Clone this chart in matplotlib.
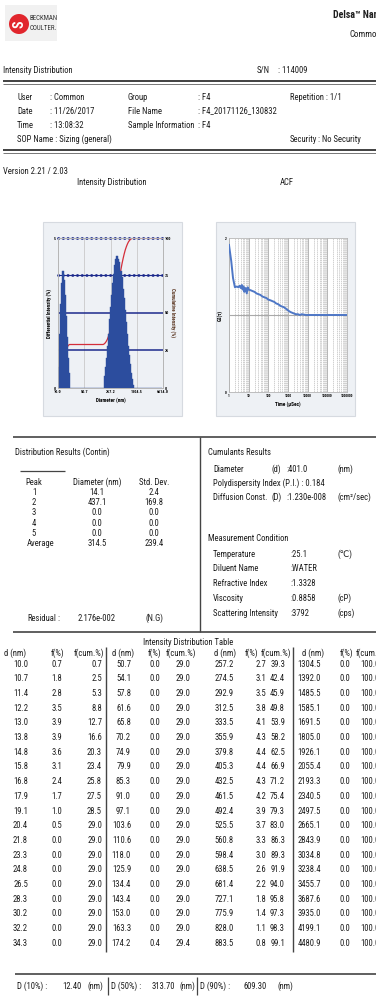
import numpy as np
import matplotlib
matplotlib.use('Agg')
import matplotlib.pyplot as plt
from matplotlib import font_manager as fm
from matplotlib.patches import Rectangle, Circle
import matplotlib.ticker as mticker

# ---------------- data ----------------
# Intensity distribution table (visible part)
g1_d = [10.0, 10.7, 11.4, 12.2, 13.0, 13.8, 14.8, 15.8, 16.8, 17.9, 19.1, 20.4, 21.8, 23.3, 24.8, 26.5, 28.3, 30.2, 32.2, 34.3]
g1_f = [0.7, 1.8, 2.8, 3.5, 3.9, 3.9, 3.6, 3.1, 2.4, 1.7, 1.0, 0.5, 0.0, 0.0, 0.0, 0.0, 0.0, 0.0, 0.0, 0.0]
g1_c = [0.7, 2.5, 5.3, 8.8, 12.7, 16.6, 20.3, 23.4, 25.8, 27.5, 28.5, 29.0, 29.0, 29.0, 29.0, 29.0, 29.0, 29.0, 29.0, 29.0]
g2_d = [50.7, 54.1, 57.8, 61.6, 65.8, 70.2, 74.9, 79.9, 85.3, 91.0, 97.1, 103.6, 110.6, 118.0, 125.9, 134.4, 143.4, 153.0, 163.3, 174.2]
g2_f = [0.0, 0.0, 0.0, 0.0, 0.0, 0.0, 0.0, 0.0, 0.0, 0.0, 0.0, 0.0, 0.0, 0.0, 0.0, 0.0, 0.0, 0.0, 0.0, 0.4]
g2_c = [29.0, 29.0, 29.0, 29.0, 29.0, 29.0, 29.0, 29.0, 29.0, 29.0, 29.0, 29.0, 29.0, 29.0, 29.0, 29.0, 29.0, 29.0, 29.0, 29.4]
g3_d = [257.2, 274.5, 292.9, 312.5, 333.5, 355.9, 379.8, 405.3, 432.5, 461.5, 492.4, 525.5, 560.8, 598.4, 638.5, 681.4, 727.1, 775.9, 828.0, 883.5]
g3_f = [2.7, 3.1, 3.5, 3.8, 4.1, 4.3, 4.4, 4.4, 4.3, 4.2, 3.9, 3.7, 3.3, 3.0, 2.6, 2.2, 1.8, 1.4, 1.1, 0.8]
g3_c = [39.3, 42.4, 45.9, 49.8, 53.9, 58.2, 62.5, 66.9, 71.2, 75.4, 79.3, 83.0, 86.3, 89.3, 91.9, 94.0, 95.8, 97.3, 98.3, 99.1]
g4_d = [1304.5, 1392.0, 1485.5, 1585.1, 1691.5, 1805.0, 1926.1, 2055.4, 2193.3, 2340.5, 2497.5, 2665.1, 2843.9, 3034.8, 3238.4, 3455.7, 3687.6, 3935.0, 4199.1, 4480.9]
g4_f = [0.0, 0.0, 0.0, 0.0, 0.0, 0.0, 0.0, 0.0, 0.0, 0.0, 0.0, 0.0, 0.0, 0.0, 0.0, 0.0, 0.0, 0.0, 0.0, 0.0]
g4_c = [100.0, 100.0, 100.0, 100.0, 100.0, 100.0, 100.0, 100.0, 100.0, 100.0, 100.0, 100.0, 100.0, 100.0, 100.0, 100.0, 100.0, 100.0, 100.0, 100.0]

# bins hidden in the printed table (estimated from the chart / cumulative values)
h1_d = [36.6, 39.1, 41.7, 44.5, 47.5]
h1_f = [0.0, 0.0, 0.0, 0.0, 0.0]
h1_c = [29.0, 29.0, 29.0, 29.0, 29.0]
h2_d = [185.9, 198.4, 211.7, 225.9, 241.0]
h2_f = [0.7, 1.0, 1.4, 1.8, 2.3]
h2_c = [30.1, 31.1, 32.5, 34.3, 36.6]
h3_d = [942.8, 1006.1, 1073.6, 1145.7, 1222.6]
h3_f = [0.5, 0.3, 0.1, 0.0, 0.0]
h3_c = [99.6, 99.9, 100.0, 100.0, 100.0]
h4_d = [4781.5, 5102.3, 5444.6, 5809.9, 6199.6]
h4_f = [0.0, 0.0, 0.0, 0.0, 0.0]
h4_c = [100.0, 100.0, 100.0, 100.0, 100.0]

dist_xticks = [10.0, 50.7, 257.2, 1304.5, 6614.0]
dist_cum_ticks = [0, 25, 50, 75, 100]

# ACF
acf_t = [1, 1.3, 1.6, 2, 2.5, 3, 3.5, 4, 4.5, 5, 5.5, 6, 7, 8, 9, 10, 13, 16, 20, 25, 32, 40, 50, 63, 80,
         100, 130, 160, 200, 250, 320, 400, 500, 630, 800, 1000, 1300, 1600, 2000, 2500, 3200, 4000,
         5000, 8000, 10000, 20000, 50000, 100000, 300000, 1000000]
acf_g = [1.91, 1.70, 1.48, 1.36, 1.37, 1.36, 1.38, 1.35, 1.39, 1.33, 1.37, 1.30, 1.35, 1.28, 1.36, 1.33,
         1.32, 1.31, 1.30, 1.28, 1.27, 1.26, 1.24, 1.23, 1.22, 1.20, 1.19, 1.18, 1.17, 1.15, 1.14, 1.12,
         1.11, 1.10, 1.08, 1.06, 1.04, 1.03, 1.02, 1.01, 1.01, 1.00, 1.01, 1.00, 1.00, 1.00, 1.00, 1.00,
         1.00, 1.00]
acf_xticks = [1, 10, 100, 1000, 10000, 100000, 1000000]

peaks = ['1', '2', '3', '4', '5']
peak_diam = [14.1, 437.1, 0.0, 0.0, 0.0]
peak_std = [2.4, 169.8, 0.0, 0.0, 0.0]
avg_diam, avg_std = 314.5, 239.4

# ---------------- fonts: prefer a narrow face ----------------
entries = fm.fontManager.ttflist
COND = ('condensed', 'semi-condensed', 'extra-condensed', 'ultra-condensed')


def has(name):
    return any(f.name == name for f in entries)


def has_cond(name):
    return any(f.name == name and (str(f.stretch) in COND or 'ondensed' in f.fname or 'Narrow' in f.fname)
               for f in entries)


if has('Liberation Sans Narrow'):
    FAM, STR, FS = ['Liberation Sans Narrow', 'DejaVu Sans'], 'normal', 6.4
elif has('Roboto Condensed'):
    FAM, STR, FS = ['Roboto Condensed', 'DejaVu Sans'], 'normal', 6.2
elif has_cond('DejaVu Sans'):
    FAM, STR, FS = ['DejaVu Sans'], 'condensed', 5.8
else:
    FAM, STR, FS = ['Liberation Sans', 'DejaVu Sans'], 'normal', 5.6
plt.rcParams['font.family'] = FAM
plt.rcParams['font.stretch'] = STR

W, H = 376, 996
fig = plt.figure(figsize=(W / 100, H / 100), dpi=100)
ax0 = fig.add_axes([0, 0, 1, 1])
ax0.set_xlim(0, W)
ax0.set_ylim(H, 0)
ax0.axis('off')

TXT = '#1e1e1e'


def T(x, y, s, size=None, ha='left', weight='normal', color=TXT):
    ax0.text(x, y, s, fontsize=size or FS, ha=ha, va='center', family=FAM, fontstretch=STR,
             fontweight=weight, color=color)


def hl(y, x0, x1, lw=1.0, color='#444444'):
    ax0.plot([x0, x1], [y, y], color=color, lw=lw, solid_capstyle='butt')


def vl(x, y0, y1, lw=1.0, color='#444444'):
    ax0.plot([x, x], [y0, y1], color=color, lw=lw, solid_capstyle='butt')


def px_axes(x0, y0, x1, y1):
    return fig.add_axes([x0 / W, 1 - y1 / H, (x1 - x0) / W, (y1 - y0) / H])


# ---------------- header ----------------
ax0.add_patch(Rectangle((5, 5), 52, 36, facecolor='#f1f1f1', edgecolor='none'))
ax0.add_patch(Circle((19, 24), 10, facecolor='#e1262d', edgecolor='none'))
ax0.text(19, 24, 'S', rotation=90, color='white', fontsize=10, fontweight='bold', ha='center', va='center',
         family=FAM)
T(30, 18, 'BECKMAN', FS * 0.8, color='#333333')
T(30, 28, 'COULTER.', FS * 0.8, color='#333333')
T(333, 15, 'Delsa™ Nano C', FS * 1.15, weight='bold')
T(349, 34, 'Common', FS * 1.05)

T(3, 70, 'Intensity Distribution')
T(257, 70, 'S/N')
T(278, 70, ': 114009')
hl(81, 3, 376, 1.3, '#333333')
hl(84, 3, 376, 0.7, '#777777')

rows = [(97, 'User', ': Common', 'Group', ': F4'),
        (111, 'Date', ': 11/26/2017', 'File Name', ': F4_20171126_130832'),
        (125, 'Time', ': 13:08:32', 'Sample Information', ': F4')]
for y, a, b, c, d in rows:
    T(17, y, a)
    T(50, y, b)
    T(128, y, c)
    T(198, y, d)
T(290, 97, 'Repetition : 1/1')
T(17, 139, 'SOP Name : Sizing (general)')
T(290, 139, 'Security')
T(318, 139, ': No Security')
hl(150, 3, 376, 1.3, '#333333')
hl(153, 3, 376, 0.7, '#777777')
T(3, 171, 'Version 2.21 / 2.03')
T(112, 182, 'Intensity Distribution', ha='center')
T(287, 182, 'ACF', ha='center')

# ---------------- chart frames ----------------
for fx in (43, 216):
    ax0.add_patch(Rectangle((fx, 222), 139, 194, facecolor='#eef1f5', edgecolor='#d6dae0', lw=0.8))

# ---------------- intensity distribution chart ----------------
d_all = np.array(g1_d + h1_d + g2_d + h2_d + g3_d + h3_d + g4_d + h4_d)
f_all = np.array(g1_f + h1_f + g2_f + h2_f + g3_f + h3_f + g4_f + h4_f)
c_all = np.array(g1_c + h1_c + g2_c + h2_c + g3_c + h3_c + g4_c + h4_c)
mids = np.sqrt(d_all[:-1] * d_all[1:])
lefts = np.concatenate([[d_all[0] ** 2 / mids[0]], mids])
rights = np.concatenate([mids, [d_all[-1] ** 2 / mids[-1]]])

NAVY = '#1c2a8c'
BLUE = '#2c4d9e'
axL = px_axes(58, 238, 163, 388)
axR = axL.twinx()
axL.set_zorder(axR.get_zorder() + 1)
axL.patch.set_visible(False)
axR.patch.set_facecolor('white')

axL.set_xscale('log')
axL.set_xlim(dist_xticks[0], dist_xticks[-1])
axL.bar(lefts, f_all, width=rights - lefts, align='edge', color=BLUE, lw=0.3, edgecolor=BLUE)
axL.set_ylim(0, 5)
axL.set_yticks([0, 5])

axR.set_ylim(0, 100)
for t in dist_xticks[1:-1]:
    axR.axvline(t, color='#c9c9c9', lw=0.6)
axR.plot(d_all, c_all, color='#d42e3a', lw=0.9, zorder=3)
for lvl in dist_cum_ticks[1:3]:
    axR.axhline(lvl, color=NAVY, lw=1.1, zorder=2)
for lvl in dist_cum_ticks[3:]:
    axR.axhline(lvl, color=NAVY, lw=0.8, zorder=2, clip_on=False)
    axR.axhline(lvl, color=NAVY, lw=2.0, ls=(0, (0.1, 1.6)), dash_capstyle='round', zorder=2, clip_on=False)
axR.set_yticks(dist_cum_ticks)

axL.set_xticks(dist_xticks)
axL.set_xticklabels(['%.1f' % v for v in dist_xticks])
axL.xaxis.set_minor_locator(mticker.NullLocator())
for a in (axL, axR):
    a.tick_params(length=0, labelsize=3.0, pad=1.5)
    for lab in a.get_xticklabels() + a.get_yticklabels():
        lab.set_fontweight('bold')
    for s in a.spines.values():
        s.set_color('#b5b5b5')
        s.set_linewidth(0.6)
axL.set_xlabel('Diameter (nm)', fontsize=3.8, labelpad=2, fontweight='bold')
axL.set_ylabel('Differential Intensity (%)', fontsize=3.6, labelpad=1, fontweight='bold')
axR.set_ylabel('Cumulative Intensity (%)', fontsize=3.6, labelpad=3, rotation=270, fontweight='bold',
               color='#5a3520')

# ---------------- ACF chart ----------------
axA = px_axes(229, 238, 347, 392)
axA.set_xscale('log')
axA.set_xlim(acf_xticks[0], acf_xticks[-1])
axA.set_ylim(0, 2)
axA.xaxis.set_minor_locator(mticker.LogLocator(base=10, subs=np.arange(2, 10), numticks=20))
axA.xaxis.set_minor_formatter(mticker.NullFormatter())
axA.grid(True, which='major', axis='x', color='#a9a9a9', lw=0.6)
axA.grid(True, which='minor', axis='x', color='#bdbdbd', lw=0.5, ls=(0, (2, 1)))
axA.axhline(1, color='#a9a9a9', lw=0.8)
axA.plot(acf_t, acf_g, color='#4e77c6', lw=1.4, zorder=3)
axA.set_xticks(acf_xticks)
axA.set_xticklabels([str(v) for v in acf_xticks])
axA.set_yticks([0, 2])
axA.tick_params(which='both', length=0, labelsize=2.6, pad=1.5)
for lab in axA.get_xticklabels() + axA.get_yticklabels():
    lab.set_fontweight('bold')
for s in axA.spines.values():
    s.set_color('#b5b5b5')
    s.set_linewidth(0.6)
axA.set_xlabel('Time (μSec)', fontsize=3.8, labelpad=2, fontweight='bold')
axA.set_ylabel('G2(τ)', fontsize=3.6, labelpad=2, fontweight='bold')

# ---------------- results section ----------------
hl(437, 13, 376, 1.2)
vl(200, 437, 632, 1.0)
hl(632, 13, 376, 1.2)

T(15, 452, 'Distribution Results (Contin)')
hl(471, 20, 65, 0.9)
T(34, 482, 'Peak', ha='center')
T(97, 482, 'Diameter (nm)', ha='center')
T(154, 482, 'Std. Dev.', ha='center')
for i, (p, dm, sd) in enumerate(zip(peaks, peak_diam, peak_std)):
    y = 492.5 + 10.2 * i
    T(34, y, p, ha='center')
    T(97, y, '%.1f' % dm, ha='center')
    T(154, y, '%.1f' % sd, ha='center')
T(27, 543.5, 'Average')
T(97, 543.5, '%.1f' % avg_diam, ha='center')
T(154, 543.5, '%.1f' % avg_std, ha='center')
T(27, 618, 'Residual')
T(57, 618, ':')
T(97, 618, '2.176e-002', ha='center')
T(154, 618, '(N.G)', ha='center')

T(208, 452, 'Cumulants Results')
T(213, 469, 'Diameter')
T(272, 469, '(d)')
T(286, 469, ':401.0')
T(337, 469, '(nm)')
T(213, 483, 'Polydispersity Index (P.I.) : 0.184')
T(213, 497, 'Diffusion Const.')
T(272, 497, '(D)')
T(286, 497, ':1.230e-008')
T(337, 497, '(cm²/sec)')
T(208, 538, 'Measurement Condition')
meas = [(554, 'Temperature', ':25.1', '(℃)'), (568, 'Diluent Name', ':WATER', ''),
        (583, 'Refractive Index', ':1.3328', ''), (598, 'Viscosity', ':0.8858', '(cP)'),
        (613, 'Scattering Intensity', ':3792', '(cps)')]
for y, a, b, c in meas:
    T(213, y, a)
    T(290, y, b)
    if c:
        T(337, y, c)

# ---------------- table ----------------
T(188, 642, 'Intensity Distribution Table', ha='center')
# (d header x, d right, f right, cum right, f header right, cum header right)
groups = [(g1_d, g1_f, g1_c, 4, 28, 62, 102, 64, 104),
          (g2_d, g2_f, g2_c, 112, 131, 160, 190, 161, 196),
          (g3_d, g3_f, g3_c, 214, 234, 266, 285, 258, 291),
          (g4_d, g4_f, g4_c, 302, 321, 350, 380, 353, 386)]
y0, dy = 664, 14.7
for gd, gf, gc, hx, xd, xf, xc, hf, hc in groups:
    T(hx, 653, 'd (nm)')
    T(hf, 653, 'f(%)', ha='right')
    T(hc, 653, 'f(cum.%)', ha='right')
    for i in range(len(gd)):
        y = y0 + dy * i
        T(xd, y, '%.1f' % gd[i], ha='right')
        T(xf, y, '%.1f' % gf[i], ha='right')
        T(xc, y, '%.1f' % gc[i], ha='right')
vl(106, 647, 952, 1.0)
vl(293, 647, 952, 1.0)

hl(974, 15, 376, 1.2)
T(17, 986, 'D (10%) :')
T(82, 986, '12.40', ha='right')
T(87, 986, '(nm)')
vl(108, 977, 995, 0.9)
T(111, 986, 'D (50%) :')
T(175, 986, '313.70', ha='right')
T(179, 986, '(nm)')
vl(197, 977, 995, 0.9)
T(200, 986, 'D (90%) :')
T(267, 986, '609.30', ha='right')
T(278, 986, '(nm)')

fig.savefig('out.png', dpi=100, facecolor='white')
